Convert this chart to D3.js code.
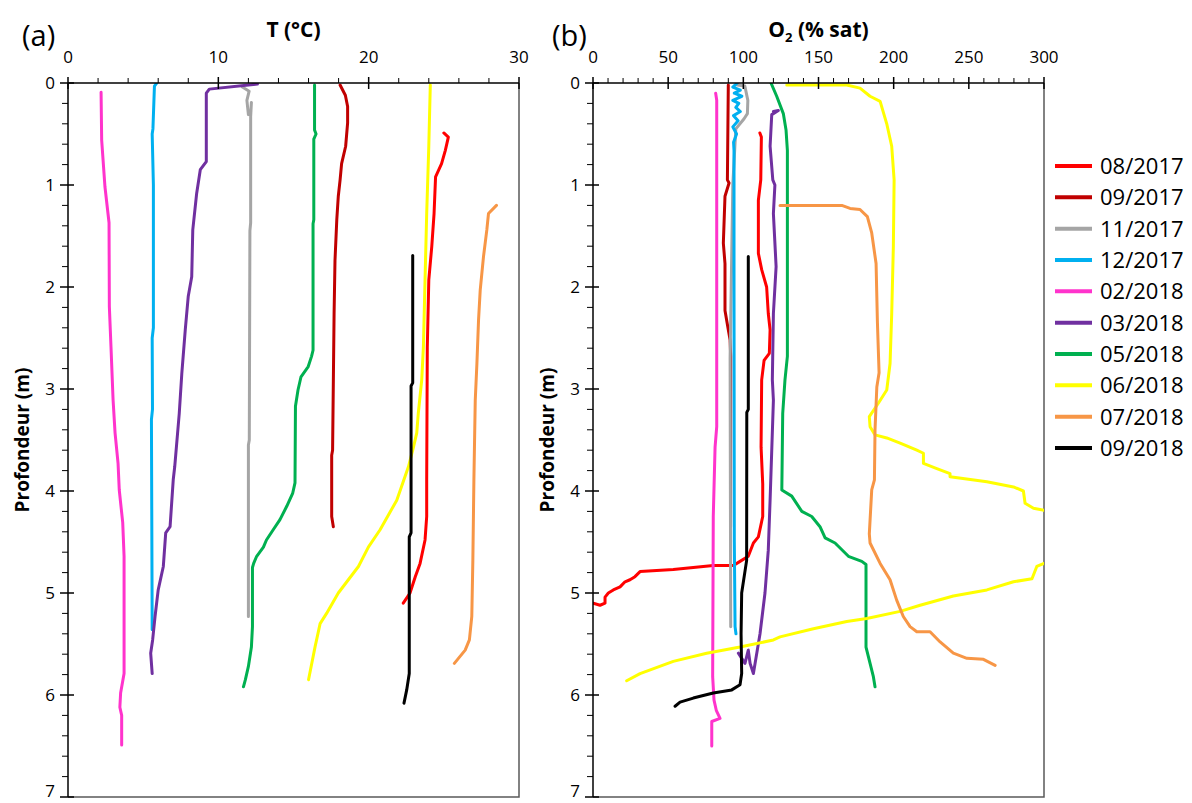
<!DOCTYPE html>
<html><head><meta charset="utf-8">
<script src="https://cdn.jsdelivr.net/npm/d3@7"></script>
<style>
html,body{margin:0;padding:0;background:#fff;}
svg{display:block;font-family:"Open Sans",sans-serif;}
</style></head><body>
<svg id="c" width="1192" height="803"></svg>
<script>
// ---- data: [depth (m), value] ----
const seriesNames = ["08/2017","09/2017","11/2017","12/2017","02/2018","03/2018","05/2018","06/2018","07/2018","09/2018"];
const seriesColors = ["#FF0000","#C00000","#A5A5A5","#00B0F0","#FF33CC","#7030A0","#00B050","#FFFF00","#F79646","#000000"];

const depthTicks = [0,1,2,3,4,5,6,7];
const tempTicks = [0,10,20,30];
const oxyTicks = [0,50,100,150,200,250,300];

// Temperature profiles (°C)
const t_08_2017 = [[0.49,25.0],[0.53,25.3],[0.66,25.1],[0.79,24.85],[0.92,24.45],[1.28,24.35],[1.6,24.2],[1.93,24.0],[2.59,23.9],[3.89,23.86],[4.25,23.86],[4.48,23.75],[4.71,23.42],[4.84,23.1],[5.0,22.75],[5.1,22.3]];
const t_09_2017 = [[0.02,18.1],[0.12,18.45],[0.23,18.6],[0.39,18.6],[0.62,18.47],[0.79,18.2],[0.95,18.1],[1.11,17.98],[1.34,17.88],[1.74,17.76],[2.26,17.7],[3.6,17.6],[3.65,17.54],[4.25,17.54],[4.35,17.65]];
const t_11_2017 = [[0.04,11.6],[0.08,12.05],[0.17,11.9],[0.31,12.0],[0.3,12.15],[0.19,12.2],[0.33,12.15],[1.37,12.15],[1.45,12.1],[3.5,12.06],[3.55,12.0],[5.23,12.0]];
const t_12_2017 = [[0.0,5.9],[0.03,5.75],[0.45,5.65],[0.5,5.6],[1.0,5.68],[2.4,5.68],[2.5,5.6],[3.2,5.62],[3.3,5.55],[5.36,5.6]];
const t_02_2018 = [[0.09,2.2],[0.56,2.24],[1.02,2.46],[1.37,2.73],[2.19,2.75],[2.59,2.86],[3.11,3.0],[3.43,3.13],[3.73,3.33],[3.99,3.41],[4.31,3.64],[4.64,3.73],[5.79,3.73],[5.98,3.5],[6.12,3.45],[6.2,3.57],[6.49,3.57]];
const t_03_2018 = [[0.01,12.6],[0.06,9.4],[0.1,9.2],[0.77,9.2],[0.85,8.8],[1.08,8.56],[1.44,8.3],[1.9,8.23],[2.09,8.0],[2.42,7.8],[2.85,7.57],[3.24,7.4],[3.76,7.1],[3.89,7.0],[4.35,6.79],[4.41,6.5],[4.74,6.34],[4.97,6.0],[5.23,5.79],[5.46,5.63],[5.59,5.5],[5.79,5.6]];
const t_05_2018 = [[0.02,16.4],[0.46,16.4],[0.5,16.5],[0.55,16.35],[1.34,16.35],[1.38,16.3],[2.62,16.3],[2.68,16.2],[2.78,15.98],[2.88,15.5],[3.01,15.3],[3.17,15.13],[3.92,15.1],[4.02,14.95],[4.15,14.55],[4.28,14.1],[4.38,13.65],[4.48,13.2],[4.55,13.0],[4.64,12.55],[4.71,12.35],[4.75,12.27],[5.33,12.27],[5.53,12.2],[5.72,12.0],[5.85,11.8],[5.92,11.67]];
const t_06_2018 = [[0.02,24.1],[0.62,24.0],[1.28,23.86],[1.93,23.75],[2.59,23.64],[2.91,23.53],[3.24,23.3],[3.43,23.2],[3.57,22.98],[3.76,22.65],[4.09,21.87],[4.38,20.76],[4.55,19.98],[4.74,19.32],[5.0,17.98],[5.2,17.2],[5.3,16.77],[5.53,16.43],[5.85,16.0]];
const t_07_2018 = [[1.2,28.5],[1.28,27.97],[1.44,27.86],[1.7,27.64],[2.03,27.42],[2.32,27.31],[2.75,27.2],[3.11,27.09],[3.89,27.0],[4.68,26.93],[5.23,26.86],[5.46,26.7],[5.56,26.42],[5.69,25.7]];
const t_09_2018 = [[1.69,22.93],[2.94,22.93],[2.97,22.82],[4.41,22.82],[4.45,22.7],[5.79,22.7],[5.95,22.53],[6.08,22.35]];

// Oxygen profiles (% sat)
const o_08_2017 = [[0.49,111],[0.53,112],[0.95,111.6],[1.15,110],[1.67,110],[1.83,112.2],[2.0,115.5],[2.26,116.6],[2.42,117.8],[2.65,117.3],[2.72,113.8],[2.91,112.2],[3.57,111.8],[3.93,112.9],[4.25,112.9],[4.45,110],[4.51,106.7],[4.64,103.3],[4.69,97.8],[4.73,93.4],[4.73,80],[4.77,53.4],[4.79,31.3],[4.84,27.9],[4.87,24.6],[4.89,21.3],[4.94,18],[4.97,13.5],[5.0,10.2],[5.04,8],[5.1,8],[5.12,4.7],[5.1,0.2]];
const o_09_2017 = [[0.02,90],[0.95,89.4],[0.98,90.5],[1.11,87.8],[1.57,86.7],[1.77,87.8],[2.23,87.8],[2.42,90],[2.52,91.2],[2.68,91.6],[4.35,91.5]];
const o_11_2017 = [[0.02,96],[0.03,101],[0.17,103],[0.3,102.7],[0.35,100.5],[0.45,95],[1.0,93],[2.7,91.2],[5.33,91.6]];
const o_12_2017 = [[0.0,96],[0.04,93],[0.07,98],[0.1,94],[0.13,99],[0.17,93],[0.2,97],[0.24,95],[0.28,98],[0.32,93.5],[0.37,96.5],[0.43,93],[0.5,95.5],[0.58,93.5],[0.66,93.8],[2.0,93.8],[4.5,94],[5.33,94.5],[5.4,95.1]];
const o_02_2018 = [[0.1,81.6],[0.17,82.3],[3.37,82.3],[3.57,81.2],[4.25,80],[5.82,79.6],[6.05,80.5],[6.15,82],[6.23,84.5],[6.26,79],[6.5,79]];
const o_03_2018 = [[0.28,120],[0.27,123.3],[0.31,118.9],[0.62,117.8],[0.95,119.6],[1.0,121],[1.28,120],[1.8,121.8],[2.26,120],[2.91,119.3],[3.11,120],[4.09,117.8],[4.58,116.6],[5.0,114.4],[5.4,111.1],[5.79,106.7],[5.69,104.5],[5.56,103.3],[5.69,101.1],[5.59,96.7]];
const o_05_2018 = [[0.0,118.4],[0.13,122.2],[0.3,126.6],[0.46,128.4],[0.66,129.3],[2.68,129.3],[2.91,127.7],[3.24,126.2],[3.99,125.6],[4.05,132.2],[4.2,138.9],[4.25,145.5],[4.35,151],[4.46,154.4],[4.51,161],[4.64,169.9],[4.69,178.8],[4.72,181.6],[5.53,181.6],[5.69,184.3],[5.82,186.5],[5.92,187.6]];
const o_06_2018 = [[0.02,128.9],[0.02,168.8],[0.05,177.6],[0.13,184.3],[0.18,191],[0.4,195.4],[0.62,198.7],[0.95,200.3],[1.6,199.8],[2.26,198.7],[2.75,197.6],[3.01,195.4],[3.14,189.8],[3.27,183.8],[3.37,184.3],[3.45,187.6],[3.48,195.4],[3.53,204.3],[3.6,215.4],[3.63,219.8],[3.73,219.8],[3.78,228.7],[3.83,237.5],[3.86,237.5],[3.91,262],[3.96,279.7],[4.0,286.3],[4.12,287.4],[4.17,293],[4.19,300],[4.25,315],[4.65,315],[4.71,300],[4.74,295.2],[4.86,292],[4.89,279.7],[4.97,262],[5.03,239.7],[5.12,217.6],[5.18,204.3],[5.25,182.1],[5.28,168.8],[5.35,146.6],[5.43,124.4],[5.46,120],[5.53,97.8],[5.59,75.6],[5.67,53.4],[5.79,31.3],[5.86,22.4]];
const o_07_2018 = [[1.2,124.4],[1.2,165.5],[1.23,171],[1.24,177.6],[1.31,182.5],[1.47,185.4],[1.77,188.3],[2.35,189.2],[2.84,190.3],[2.98,188.8],[3.4,187.6],[3.89,187.2],[3.99,185.4],[4.42,183.8],[4.51,184.3],[4.71,191],[4.87,197.6],[5.07,202],[5.23,206.4],[5.33,210.9],[5.38,215.4],[5.38,224.2],[5.48,230.9],[5.59,239.7],[5.64,248.7],[5.65,259.7],[5.71,267.5]];
const o_09_2018 = [[1.7,103.3],[3.2,103.3],[3.23,102.3],[4.68,102.2],[5.0,98.9],[5.4,98.5],[5.79,98.9],[5.9,97.8],[5.95,92.3],[5.98,80],[6.03,66.7],[6.07,57.9],[6.11,54.6]];

const tempSeries = [t_08_2017,t_09_2017,t_11_2017,t_12_2017,t_02_2018,t_03_2018,t_05_2018,t_06_2018,t_07_2018,t_09_2018];
const oxySeries = [o_08_2017,o_09_2017,o_11_2017,o_12_2017,o_02_2018,o_03_2018,o_05_2018,o_06_2018,o_07_2018,o_09_2018];

// ---- drawing ----
const svg = d3.select("#c");
svg.append("rect").attr("width",1192).attr("height",803).attr("fill","#fff");

const plotTop = 83, plotBottom = 797;
const yScale = d3.scaleLinear().domain([0,7]).range([plotTop,plotBottom]);

function panel(opts){
  const {x0,x1,domain,majorStep,minorStep,data,label,clipId,tag,tagX,titleNode} = opts;
  const x = d3.scaleLinear().domain(domain).range([x0,x1]);
  const y = yScale;
  const g = svg.append("g");

  svg.append("defs").append("clipPath").attr("id",clipId)
    .append("rect").attr("x",x0).attr("y",plotTop).attr("width",x1-x0).attr("height",plotBottom-plotTop);

  g.append("path").attr("d",`M${x0},${plotBottom}H${x1}V${plotTop}`)
    .attr("fill","none").attr("stroke","#595959").attr("stroke-width",1.5);

  const line = d3.line().x(d=>x(d[1])).y(d=>y(d[0]));
  const lg = g.append("g").attr("clip-path",`url(#${clipId})`);
  data.forEach((s,i)=>{
    lg.append("path").attr("d",line(s)).attr("fill","none")
      .attr("stroke",seriesColors[i]).attr("stroke-width",3)
      .attr("stroke-linejoin","round").attr("stroke-linecap","round");
  });

  const minor = d3.range(domain[0],domain[1]+1e-9,minorStep).filter(v=>Math.abs(v/majorStep-Math.round(v/majorStep))>1e-6);
  const majors = d3.range(domain[0],domain[1]+1e-9,majorStep);
  const ax = g.append("g");
  ax.append("line").attr("x1",x0).attr("x2",x1).attr("y1",plotTop).attr("y2",plotTop).attr("stroke","#000").attr("stroke-width",1.5);
  ax.selectAll(".mn").data(minor).enter().append("line")
    .attr("x1",d=>x(d)).attr("x2",d=>x(d)).attr("y1",plotTop-5).attr("y2",plotTop).attr("stroke","#000").attr("stroke-width",1);
  ax.selectAll(".mj").data(majors).enter().append("line")
    .attr("x1",d=>x(d)).attr("x2",d=>x(d)).attr("y1",plotTop-6).attr("y2",plotTop+6).attr("stroke","#000").attr("stroke-width",1.5);
  ax.selectAll(".tl").data(opts.ticks).enter().append("text")
    .attr("x",d=>x(d)).attr("y",plotTop-20).attr("text-anchor","middle")
    .attr("font-size",17).attr("fill","#000").text(d=>d);

  const ay = g.append("g");
  ay.append("line").attr("x1",x0).attr("x2",x0).attr("y1",plotTop).attr("y2",plotBottom).attr("stroke","#000").attr("stroke-width",1.5);
  const dMinor = d3.range(0,7.0001,0.2).filter(v=>Math.abs(v-Math.round(v))>1e-6);
  ay.selectAll(".mn").data(dMinor).enter().append("line")
    .attr("x1",x0-6).attr("x2",x0).attr("y1",d=>y(d)).attr("y2",d=>y(d)).attr("stroke","#000").attr("stroke-width",1);
  ay.selectAll(".mj").data(depthTicks).enter().append("line")
    .attr("x1",x0-8).attr("x2",x0+6).attr("y1",d=>y(d)).attr("y2",d=>y(d)).attr("stroke","#000").attr("stroke-width",1.5);
  ay.selectAll(".tl").data(depthTicks).enter().append("text")
    .attr("x",x0-13).attr("y",d=>Math.min(y(d),plotBottom-6)).attr("dy","0.36em").attr("text-anchor","end")
    .attr("font-size",17).attr("fill","#000").text(d=>d);

  g.append("text").attr("transform",`translate(${x0-46},${(plotTop+plotBottom)/2}) rotate(-90)`)
    .attr("text-anchor","middle").attr("dy","0.35em")
    .attr("font-size",19).attr("font-weight","bold").text(label);

  titleNode(g, (x0+x1)/2);

  g.append("text").attr("x",tagX).attr("y",46).attr("font-size",29).text(tag);
}

panel({x0:68,x1:519,domain:[0,30],majorStep:10,minorStep:2,ticks:tempTicks,data:tempSeries,
  label:"Profondeur (m)",clipId:"clipA",tag:"(a)",tagX:22,
  titleNode:(g,cx)=>{g.append("text").attr("x",cx).attr("y",37).attr("text-anchor","middle")
    .attr("font-size",21).attr("font-weight","bold").text("T (°C)");}});

panel({x0:593,x1:1044,domain:[0,300],majorStep:50,minorStep:10,ticks:oxyTicks,data:oxySeries,
  label:"Profondeur (m)",clipId:"clipB",tag:"(b)",tagX:552,
  titleNode:(g,cx)=>{const t=g.append("text").attr("x",cx).attr("y",37).attr("text-anchor","middle")
    .attr("font-size",21).attr("font-weight","bold");
    t.append("tspan").text("O");
    t.append("tspan").attr("font-size",13).attr("dy",5).text("2");
    t.append("tspan").attr("dy",-5).text(" (% sat)");}});

const leg = svg.append("g");
const legY = d3.scaleLinear().domain([0,9]).range([166,448]);
seriesNames.forEach((n,i)=>{
  leg.append("line").attr("x1",1055).attr("x2",1092).attr("y1",legY(i)).attr("y2",legY(i))
    .attr("stroke",seriesColors[i]).attr("stroke-width",4);
  leg.append("text").attr("x",1100).attr("y",legY(i)).attr("dy","0.36em")
    .attr("font-size",22).attr("fill","#000").text(n);
});
</script>
</body></html>
